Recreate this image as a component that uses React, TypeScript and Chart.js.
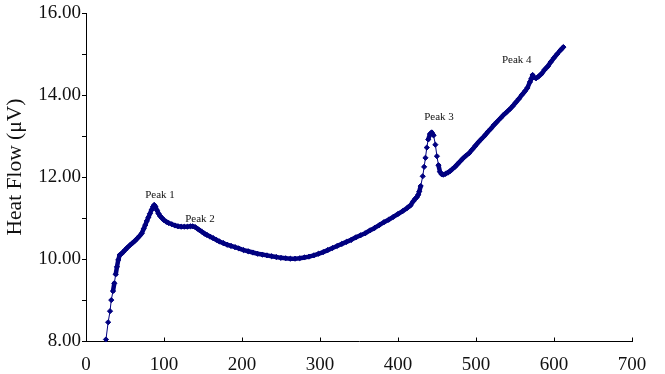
import React, { useEffect, useRef } from 'react';
import { Chart, registerables } from 'chart.js';

Chart.register(...registerables);

// Temperature (x) and heat flow (y)
const tempC = [
  25.6, 28.4, 30.8, 32.4, 34.6, 36.3, 38.1, 39.7, 41.4, 43.2,
  44.9, 47.5, 50.0, 53.0, 56.4, 60.0, 63.0, 66.0, 69.0, 71.5,
  74.0, 76.0, 78.0, 80.0, 82.0, 84.0, 86.0, 87.5, 89.0, 91.0,
  93.0, 95.0, 97.5, 100.0, 103.0, 106.0, 110.0, 114.0, 118.0, 122.0,
  126.0, 130.0, 134.0, 137.0, 140.0, 143.0, 146.0, 149.0, 152.0, 155.0,
  159.0, 163.0, 167.0, 171.0, 176.0, 181.0, 186.0, 191.0, 196.0, 202.0,
  208.0, 214.0, 220.0, 226.0, 232.0, 238.0, 244.0, 250.0, 256.0, 262.0,
  268.0, 274.0, 280.0, 286.0, 292.0, 298.0, 304.0, 310.0, 316.0, 322.0,
  328.0, 334.0, 340.0, 346.0, 352.0, 358.0, 364.0, 370.0, 376.0, 382.0,
  388.0, 394.0, 400.0, 406.0, 412.0, 416.0, 419.5, 422.0, 424.0, 426.0,
  427.3, 429.1, 431.7, 433.5, 435.2, 436.9, 438.8, 441.0, 443.2, 445.6,
  447.9, 449.9, 451.9, 453.8, 456.0, 458.1, 461.0, 464.0, 467.0, 470.0,
  473.0, 476.0, 479.5, 483.0, 487.0, 491.0, 495.0, 499.0, 503.0, 507.0,
  511.0, 515.0, 519.0, 523.0, 527.0, 531.0, 535.0, 539.0, 543.0, 547.0,
  551.0, 555.0, 559.0, 563.0, 566.0, 569.2, 571.0, 572.5, 574.5, 577.0,
  580.0, 584.0, 588.0, 592.0, 596.0, 600.0, 604.0, 608.0, 612.0,
];

const heatFlow = [
  8.05, 8.47, 8.74, 9.01, 9.23, 9.42, 9.64, 9.82, 9.99, 10.11,
  10.13, 10.18, 10.23, 10.29, 10.35, 10.41, 10.46, 10.52, 10.58, 10.64,
  10.75, 10.84, 10.94, 11.03, 11.12, 11.21, 11.29, 11.33, 11.29, 11.20,
  11.12, 11.06, 11.01, 10.96, 10.92, 10.89, 10.86, 10.83, 10.81, 10.80,
  10.80, 10.80, 10.81, 10.81, 10.79, 10.75, 10.71, 10.67, 10.63, 10.60,
  10.56, 10.52, 10.48, 10.44, 10.40, 10.36, 10.33, 10.30, 10.27, 10.23,
  10.20, 10.17, 10.14, 10.12, 10.10, 10.08, 10.06, 10.04, 10.03, 10.02,
  10.02, 10.03, 10.05, 10.07, 10.10, 10.14, 10.18, 10.23, 10.28, 10.33,
  10.38, 10.43, 10.48, 10.54, 10.59, 10.64, 10.71, 10.77, 10.84, 10.91,
  10.97, 11.04, 11.11, 11.18, 11.26, 11.32, 11.42, 11.48, 11.52, 11.58,
  11.66, 11.79, 12.03, 12.26, 12.48, 12.73, 12.93, 13.06, 13.10, 13.03,
  12.80, 12.52, 12.30, 12.14, 12.08, 12.07, 12.09, 12.12, 12.16, 12.21,
  12.26, 12.32, 12.39, 12.46, 12.53, 12.59, 12.68, 12.77, 12.86, 12.94,
  13.02, 13.11, 13.19, 13.28, 13.36, 13.44, 13.52, 13.59, 13.66, 13.74,
  13.83, 13.92, 14.02, 14.11, 14.19, 14.33, 14.41, 14.50, 14.44, 14.42,
  14.46, 14.53, 14.63, 14.71, 14.82, 14.92, 15.01, 15.10, 15.18,
];

const peakLabels = ['Peak 1', 'Peak 2', 'Peak 3', 'Peak 4'];
const peakLabelX = [94.9, 146.2, 452.6, 552.2];
const peakLabelY = [11.57, 10.98, 13.47, 14.87];

const yAxisTitle = 'Heat Flow (\u03BCV)';
const xMin = 0;
const xMax = 700;
const xStep = 100;
const yMin = 8;
const yMax = 16;
const yStep = 1;

const SERIF = '"Liberation Serif", "Times New Roman", serif';
const NAVY = '#000080';

const overlayPlugin = {
  id: 'overlay',
  afterDatasetsDraw(chart: any) {
    const { ctx, scales, chartArea } = chart;
    const xs = scales.x;
    const ys = scales.y;
    ctx.save();
    // inward x tick marks
    ctx.strokeStyle = '#000';
    ctx.lineWidth = 1;
    xs.ticks.forEach((t: any) => {
      const px = Math.round(xs.getPixelForValue(t.value)) + 0.5;
      ctx.beginPath();
      ctx.moveTo(px, chartArea.bottom);
      ctx.lineTo(px, chartArea.bottom - 4);
      ctx.stroke();
    });
    // peak labels
    ctx.fillStyle = '#111';
    ctx.font = `11px ${SERIF}`;
    ctx.textAlign = 'center';
    ctx.textBaseline = 'middle';
    peakLabels.forEach((lbl, i) => {
      ctx.fillText(lbl, xs.getPixelForValue(peakLabelX[i]), ys.getPixelForValue(peakLabelY[i]));
    });
    // y axis title
    ctx.translate(15, 167);
    ctx.rotate(-Math.PI / 2);
    ctx.font = `21.5px ${SERIF}`;
    ctx.fillStyle = '#111';
    ctx.fillText(yAxisTitle, 0, 0);
    ctx.restore();
  },
};

export default function App() {
  const ref = useRef<HTMLCanvasElement | null>(null);

  useEffect(() => {
    if (!ref.current) return;
    const chart = new Chart(ref.current, {
      type: 'scatter',
      data: {
        datasets: [
          {
            data: tempC.map((x, i) => ({ x, y: heatFlow[i] })),
            showLine: true,
            borderColor: NAVY,
            backgroundColor: NAVY,
            borderWidth: 1,
            borderJoinStyle: 'round',
            borderCapStyle: 'round',
            pointStyle: 'rectRot',
            pointRadius: 2.6,
            pointBorderWidth: 1,
            pointBorderColor: NAVY,
            pointBackgroundColor: NAVY,
            clip: false,
            segment: {
              borderWidth: (c: any) => {
                const dx = c.p1.x - c.p0.x;
                const dy = c.p1.y - c.p0.y;
                return Math.sqrt(dx * dx + dy * dy) < 8 ? 4.5 : 1;
              },
            },
          } as any,
        ],
      },
      options: {
        responsive: false,
        devicePixelRatio: 1,
        animation: false,
        layout: { padding: { left: 0, top: 13.5, right: 33, bottom: 0 } },
        plugins: { legend: { display: false }, tooltip: { enabled: false } },
        scales: {
          x: {
            type: 'linear',
            min: xMin,
            max: xMax,
            ticks: {
              stepSize: xStep,
              color: '#111',
              padding: 12,
              maxRotation: 0,
              font: { family: SERIF, size: 19 },
            },
            grid: { display: true, drawOnChartArea: false, drawTicks: false, color: '#000' },
            border: { display: true, color: '#000', width: 1 },
            afterFit: (s: any) => {
              s.height = 32.5;
            },
          },
          y: {
            type: 'linear',
            min: yMin,
            max: yMax,
            ticks: {
              stepSize: yStep,
              color: '#111',
              padding: 1,
              font: { family: SERIF, size: 19 },
              callback: (v: any) => (Number(v) % 2 === 0 ? Number(v).toFixed(2) : ''),
            },
            grid: { display: true, drawOnChartArea: false, drawTicks: true, tickLength: 4, color: '#000' },
            border: { display: true, color: '#000', width: 1 },
            afterFit: (s: any) => {
              s.width = 86;
            },
          },
        },
      },
      plugins: [overlayPlugin],
    });
    return () => chart.destroy();
  }, []);

  return (
    <div style={{ position: 'absolute', left: 0, top: 0, width: 665, height: 374, background: '#fff' }}>
      <canvas ref={ref} width={665} height={374} />
    </div>
  );
}
